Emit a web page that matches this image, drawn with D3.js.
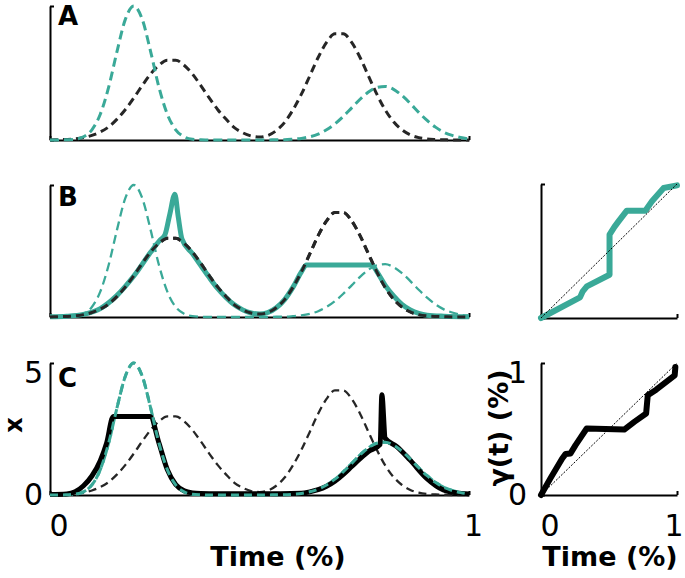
<!DOCTYPE html>
<html>
<head>
<meta charset="utf-8">
<script src="https://cdn.jsdelivr.net/npm/d3@7"></script>
<style>
    body { margin: 0; background: #fff; }
    svg text { font-family: "DejaVu Sans", sans-serif; fill: #000; }
</style>
</head>
<body>
<div id="chart"></div>
<script>

// sample times (fraction of the trial)
const timeGrid = [0, 0.02, 0.04, 0.06, 0.08, 0.10, 0.12, 0.14, 0.16, 0.18,
    0.20, 0.22, 0.24, 0.26, 0.28, 0.30, 0.32, 0.34, 0.36, 0.38,
    0.40, 0.42, 0.44, 0.46, 0.48, 0.50, 0.52, 0.54, 0.56, 0.58,
    0.60, 0.62, 0.64, 0.66, 0.68, 0.70, 0.72, 0.74, 0.76, 0.78,
    0.80, 0.82, 0.84, 0.86, 0.88, 0.90, 0.92, 0.94, 0.96, 0.98, 1.00];

// teal dashed template (same in A, B, C)
const tealTemplate = [0, 0, 0.01, 0.03, 0.12, 0.38, 0.96, 1.97, 3.31, 4.51,
    5.00, 4.51, 3.31, 1.97, 0.96, 0.38, 0.12, 0.03, 0.01, 0,
    0, 0, 0, 0, 0, 0, 0, 0.01, 0.01, 0.03,
    0.06, 0.12, 0.22, 0.38, 0.60, 0.88, 1.20, 1.52, 1.79, 1.96,
    2.00, 1.89, 1.66, 1.36, 1.03, 0.73, 0.48, 0.29, 0.17, 0.09, 0.04];

// black dashed template (same in A, B, C)
const blackTemplate = [0, 0.01, 0.02, 0.04, 0.09, 0.17, 0.30, 0.49, 0.78, 1.14,
    1.57, 2.03, 2.46, 2.79, 2.98, 2.98, 2.79, 2.46, 2.03, 1.57,
    1.14, 0.78, 0.46, 0.27, 0.15, 0.11, 0.17, 0.35, 0.66, 1.13,
    1.71, 2.39, 3.08, 3.64, 3.96, 3.96, 3.64, 3.08, 2.39, 1.71,
    1.12, 0.68, 0.38, 0.19, 0.09, 0.04, 0.02, 0.01, 0, 0, 0];

// B: teal signal warped onto the black one
const warpedTealTime = [0, 0.04, 0.08, 0.12, 0.16, 0.20, 0.24, 0.262, 0.274, 0.286,
    0.298, 0.306, 0.315, 0.34, 0.36, 0.38, 0.40, 0.42, 0.44, 0.46,
    0.48, 0.50, 0.52, 0.54, 0.56, 0.58, 0.60, 0.612, 0.768, 0.78,
    0.80, 0.82, 0.84, 0.86, 0.88, 0.90, 0.94, 1.0];
const warpedTealValue = [0.01, 0.03, 0.10, 0.32, 0.82, 1.55, 2.45, 2.90, 3.10, 3.90,
    4.65, 3.80, 2.95, 2.40, 1.95, 1.50, 1.08, 0.74, 0.46, 0.27,
    0.15, 0.11, 0.17, 0.35, 0.66, 1.13, 1.71, 1.97, 1.97, 1.72,
    1.20, 0.80, 0.48, 0.27, 0.14, 0.07, 0.03, 0.01];

// C: black signal warped onto the teal one
const warpedBlackTime = [0, 0.04, 0.06, 0.08, 0.10, 0.12, 0.135, 0.151, 0.239, 0.26,
    0.28, 0.30, 0.32, 0.34, 0.36, 0.40, 0.50, 0.60, 0.62, 0.64,
    0.66, 0.68, 0.70, 0.72, 0.74, 0.76, 0.788, 0.792, 0.800, 0.827,
    0.859, 0.899, 0.939, 0.97, 1.0];
const warpedBlackValue = [0.02, 0.04, 0.12, 0.35, 0.72, 1.30, 1.96, 2.97, 2.97, 1.97,
    0.96, 0.40, 0.16, 0.08, 0.06, 0.05, 0.05, 0.07, 0.12, 0.20,
    0.33, 0.52, 0.78, 1.08, 1.38, 1.65, 1.92, 3.80, 2.15, 1.84,
    1.33, 0.63, 0.19, 0.08, 0.04];

// warping paths, gamma(t)
const tealPathTime = [0, 0.287, 0.307, 0.337, 0.504, 0.504, 0.540, 0.570, 0.631, 0.767, 0.816, 0.902, 1.0];
const tealPathGamma = [0, 0.154, 0.199, 0.236, 0.323, 0.622, 0.680, 0.721, 0.801, 0.801, 0.871, 0.970, 0.99];
const blackPathTime = [0, 0.069, 0.156, 0.180, 0.217, 0.254, 0.336, 0.612, 0.686, 0.773, 0.785, 0.847, 0.983, 0.988];
const blackPathGamma = [0, 0.126, 0.277, 0.310, 0.315, 0.378, 0.504, 0.496, 0.554, 0.617, 0.756, 0.798, 0.907, 0.970];

// ticks
const valueTicks = [0, 5];
const timeTicks = [0, 1];
const unitTicks = [0, 1];

const tealColor = "#3aa998";
const darkDash = "#262626";


// tick labels: "0" sits right of its tick, "1" near the end of the axis
function styleTickLabels(g, topValue, endAnchor, endShift) {
    g.selectAll(".y-axis text")
        .attr("font-family", "'Open Sans', sans-serif").attr("font-size", 30)
        .attr("dy", d => d === topValue ? "0.64em" : "0.3em");
    g.selectAll(".x-axis text")
        .attr("font-family", "'Open Sans', sans-serif").attr("font-size", 30)
        .attr("text-anchor", d => d === 0 ? "start" : endAnchor)
        .attr("x", d => d === 0 ? -1 : endShift)
        .attr("y", 41).attr("dy", 0);
}


class SignalPanel {

    constructor(svg, opts) {
        this.svg = svg;
        this.opts = opts;
        this.initVis();
    }

    initVis() {
        let vis = this;
        let o = vis.opts;

        vis.x = d3.scaleLinear().domain([0, 1]).range([50, 469]);
        vis.y = d3.scaleLinear().domain([0, 5]).range([o.base, o.top + 1]);

        vis.g = vis.svg.append("g").attr("class", "panel-" + o.letter);

        vis.line = d3.line()
            .x(d => vis.x(d[0]))
            .y(d => vis.y(d[1]))
            .curve(d3.curveMonotoneX);

        // axes, ticks pointing inward like the original
        let yAxis = d3.axisLeft(vis.y).tickValues(valueTicks)
            .tickSizeInner(-4).tickSizeOuter(0).tickPadding(7)
            .tickFormat(o.labels ? d3.format("d") : "");
        let xAxis = d3.axisBottom(vis.x).tickValues(timeTicks)
            .tickSizeInner(-4).tickSizeOuter(0)
            .tickFormat(o.labels ? d3.format("d") : "");

        vis.g.append("g").attr("class", "x-axis")
            .attr("transform", `translate(0, ${o.base})`)
            .call(xAxis);
        vis.g.append("g").attr("class", "y-axis")
            .attr("transform", "translate(50, 0)")
            .call(yAxis);

        vis.g.selectAll(".domain, .tick line")
            .attr("stroke", "#000").attr("stroke-width", 2);
        styleTickLabels(vis.g, valueTicks[1], "middle", 4);

        // templates
        vis.g.append("path")
            .datum(d3.zip(timeGrid, blackTemplate))
            .attr("fill", "none").attr("stroke", darkDash)
            .attr("stroke-width", o.blackWidth).attr("stroke-dasharray", "8,5")
            .attr("d", vis.line);

        vis.g.append("path")
            .datum(d3.zip(timeGrid, tealTemplate))
            .attr("fill", "none").attr("stroke", tealColor)
            .attr("stroke-width", o.tealWidth).attr("stroke-dasharray", "9,5")
            .attr("d", vis.line);

        // warped signal drawn on top
        if (o.warped) {
            vis.g.append("path")
                .datum(d3.zip(o.warped.time, o.warped.value))
                .attr("fill", "none").attr("stroke", o.warped.color)
                .attr("stroke-width", 5).attr("stroke-linejoin", "round")
                .attr("d", vis.line);
            // redraw the dashed reference over it, as in the figure
            vis.g.append("path")
                .datum(d3.zip(timeGrid, o.warped.overlay))
                .attr("fill", "none").attr("stroke", o.warped.overlayColor)
                .attr("stroke-width", o.warped.overlayWidth).attr("stroke-dasharray", "8,5")
                .attr("d", vis.line);
        }

        vis.g.append("text")
            .attr("x", 58).attr("y", o.letterY)
            .attr("font-weight", "bold").attr("font-size", 26)
            .text(o.letter);
    }
}


class WarpPanel {

    constructor(svg, opts) {
        this.svg = svg;
        this.opts = opts;
        this.initVis();
    }

    initVis() {
        let vis = this;
        let o = vis.opts;

        vis.x = d3.scaleLinear().domain([0, 1]).range([541, 677]);
        vis.y = d3.scaleLinear().domain([0, 1]).range([o.base, o.top]);

        vis.g = vis.svg.append("g");

        let yAxis = d3.axisLeft(vis.y).tickValues(unitTicks)
            .tickSizeInner(-4).tickSizeOuter(0).tickPadding(14)
            .tickFormat(o.labels ? d3.format("d") : "");
        let xAxis = d3.axisBottom(vis.x).tickValues(unitTicks)
            .tickSizeInner(-4).tickSizeOuter(0)
            .tickFormat(o.labels ? d3.format("d") : "");

        vis.g.append("g").attr("class", "x-axis")
            .attr("transform", `translate(0, ${o.base})`)
            .call(xAxis);
        vis.g.append("g").attr("class", "y-axis")
            .attr("transform", "translate(541, 0)")
            .call(yAxis);

        vis.g.selectAll(".domain, .tick line")
            .attr("stroke", "#000").attr("stroke-width", 2);
        styleTickLabels(vis.g, unitTicks[1], "end", 6);

        let line = d3.line().x(d => vis.x(d[0])).y(d => vis.y(d[1]));

        vis.g.append("path")
            .datum(d3.zip(o.time, o.gamma))
            .attr("fill", "none").attr("stroke", o.color)
            .attr("stroke-width", 6).attr("stroke-linejoin", "round")
            .attr("stroke-linecap", "round")
            .attr("d", line);

        // identity line
        vis.g.append("path")
            .datum(d3.zip(unitTicks, unitTicks))
            .attr("fill", "none").attr("stroke", "#000")
            .attr("stroke-width", 1).attr("stroke-dasharray", "2,1.5")
            .attr("d", line);
    }
}


let svg = d3.select("#chart").append("svg")
    .attr("width", 685)
    .attr("height", 578);

new SignalPanel(svg, {letter: "A", top: 5, base: 140, letterY: 25,
    tealWidth: 3, blackWidth: 3});

new SignalPanel(svg, {letter: "B", top: 184, base: 317, letterY: 206,
    tealWidth: 2.3, blackWidth: 3,
    warped: {time: warpedTealTime, value: warpedTealValue, color: tealColor,
        overlay: blackTemplate, overlayColor: darkDash, overlayWidth: 3}});

new SignalPanel(svg, {letter: "C", top: 362, base: 495, letterY: 387, labels: true,
    tealWidth: 3, blackWidth: 2.3,
    warped: {time: warpedBlackTime, value: warpedBlackValue, color: "#000",
        overlay: tealTemplate, overlayColor: tealColor, overlayWidth: 3}});

new WarpPanel(svg, {top: 184, base: 318, time: tealPathTime, gamma: tealPathGamma, color: tealColor});
new WarpPanel(svg, {top: 363, base: 495, time: blackPathTime, gamma: blackPathGamma, color: "#000", labels: true});

// axis titles
svg.append("text")
    .attr("transform", "translate(22, 425) rotate(-90)")
    .attr("text-anchor", "middle")
    .attr("font-weight", "bold").attr("font-size", 24)
    .text("x");

svg.append("text")
    .attr("x", 278).attr("y", 566)
    .attr("text-anchor", "middle")
    .attr("font-weight", "bold").attr("font-size", 27)
    .text("Time (%)");

svg.append("text")
    .attr("x", 610).attr("y", 566)
    .attr("text-anchor", "middle")
    .attr("font-weight", "bold").attr("font-size", 27)
    .text("Time (%)");

svg.append("text")
    .attr("transform", "translate(508, 428) rotate(-90)")
    .attr("text-anchor", "middle")
    .attr("font-weight", "bold").attr("font-size", 27)
    .text("γ(t) (%)");

</script>
</body>
</html>
